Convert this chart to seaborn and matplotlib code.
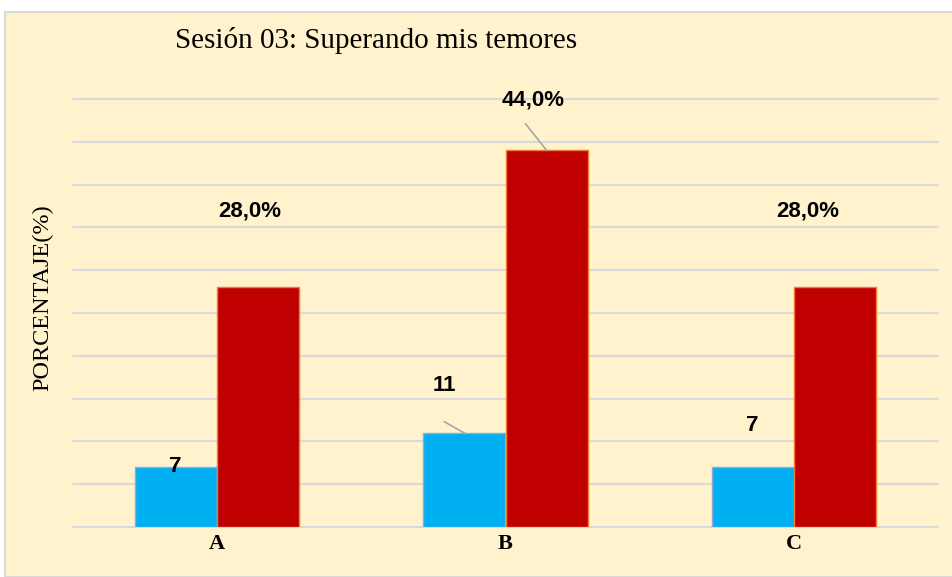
import matplotlib
matplotlib.use("Agg")
import matplotlib.pyplot as plt
import seaborn as sns
import pandas as pd
from matplotlib.patches import Rectangle

categories = ["A", "B", "C"]
counts = [7, 11, 7]
percents = [28.0, 44.0, 28.0]
count_labels = ["7", "11", "7"]
percent_labels = ["28,0%", "44,0%", "28,0%"]
title = "Sesión 03: Superando mis temores"
ylabel = "PORCENTAJE(%)"

df = pd.DataFrame({
    "cat": categories * 2,
    "val": counts + percents,
    "serie": ["n"] * 3 + ["p"] * 3,
})

sns.set_theme(style="white")
fig = plt.figure(figsize=(9.52, 5.77), dpi=100, facecolor="white")
fig.patches.append(Rectangle((5 / 952, 0), 1, 1 - 12 / 577, transform=fig.transFigure,
                             facecolor="#FFF2CC", edgecolor="#D9D9D9", linewidth=1.5,
                             zorder=-10))
ax = fig.add_axes([73 / 952, 1 - 527 / 577, (938 - 73) / 952, (527 - 99) / 577])
ax.set_facecolor("none")

sns.barplot(data=df, x="cat", y="val", hue="serie", hue_order=["n", "p"],
            palette={"n": "#00B0F0", "p": "#C00000"}, width=0.57, ax=ax,
            legend=False, saturation=1, zorder=3)

for bar, s in zip(ax.patches, ["n"] * 3 + ["p"] * 3):
    if s == "n":
        bar.set_edgecolor("#8FAADC")
    else:
        bar.set_edgecolor("#ED7D31")
    bar.set_linewidth(1)

ax.set_ylim(0, 50)
ax.set_yticks(range(0, 51, 5))
ax.set_yticklabels([])
ax.yaxis.grid(True, color="#D9D9D9", linewidth=1.5, zorder=0)
for gl in ax.get_ygridlines():
    gl.set_clip_on(False)
ax.set_axisbelow(True)
ax.tick_params(axis="both", length=0)
for sp in ax.spines.values():
    sp.set_visible(False)
ax.set_xlim(-0.5, 2.5)
ax.set_xlabel("")
ax.set_xticks(range(len(categories)))
ax.set_xticklabels(categories, fontfamily="Liberation Serif", fontweight="bold",
                   fontsize=16, color="black")
ax.tick_params(axis="x", pad=5)
ax.set_ylabel(ylabel, fontfamily="Liberation Serif", fontsize=17.5, color="black")
ax.yaxis.set_label_coords(-(73 - 53) / 865, (527 - 298) / 428)

fig.text(175 / 952, 1 - 41 / 577, title, fontfamily="Liberation Serif", fontsize=21,
         va="center", ha="left", color="black")

bw = 0.57 / 2
pxu = 288.0
lab_font = dict(fontfamily="Liberation Sans", fontweight="bold", fontsize=16,
                color="black", ha="center", va="center")
# label offsets (x px, y units)
n_off = [(-1, 0.1), (-20, 5.5), (0, 4.9)]
p_off = [(-8, 8.9), (-13, 5.9), (-27, 8.9)]
for i in range(3):
    xc = i - bw / 2
    dx, dy = n_off[i]
    ax.text(xc + dx / pxu, counts[i] + dy, count_labels[i], zorder=5, **lab_font)
    xc2 = i + bw / 2
    dx, dy = p_off[i]
    ax.text(xc2 + dx / pxu, percents[i] + dy, percent_labels[i], zorder=5, **lab_font)

# leader lines
ax.plot([1 - bw / 2 - 20 / pxu, 1 - bw / 2 + 1 / pxu], [counts[1] + 1.3, counts[1] - 0.1],
        color="#A6A6A6", linewidth=1.2, zorder=4)
ax.plot([1 + bw / 2 - 21 / pxu, 1 + bw / 2], [percents[1] + 3.1, percents[1]],
        color="#A6A6A6", linewidth=1.2, zorder=4)

fig.savefig("out.png", dpi=100, facecolor="white")
